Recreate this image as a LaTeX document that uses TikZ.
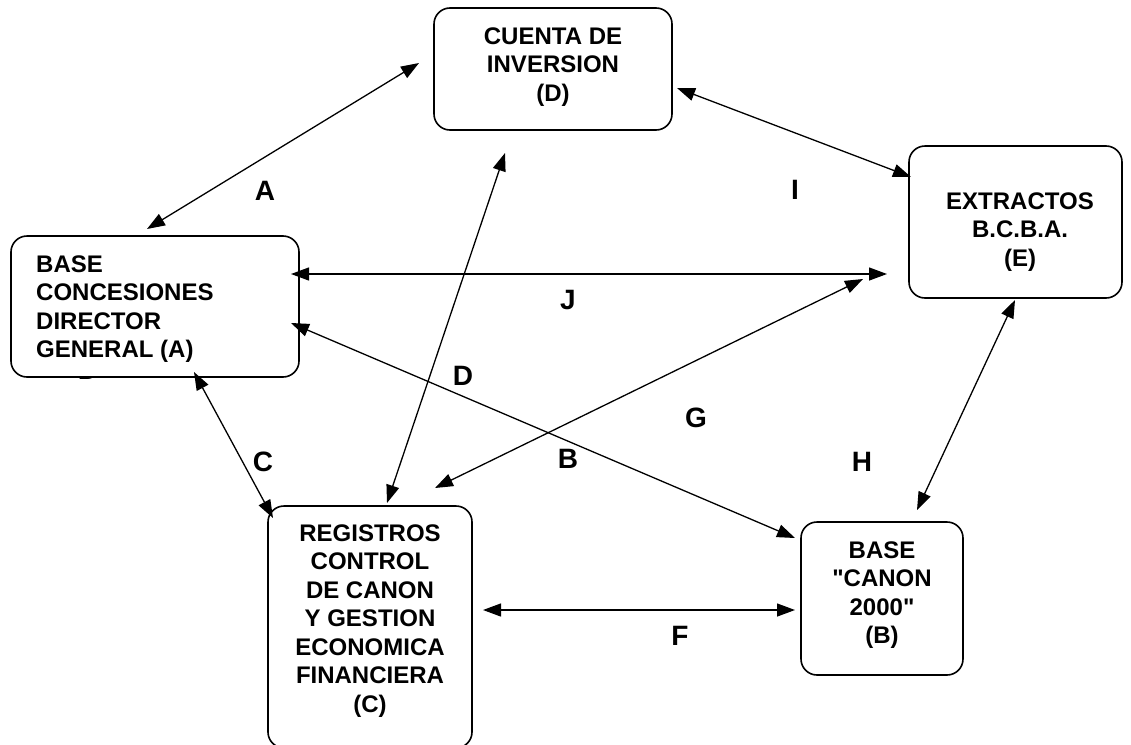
\documentclass[tikz,border=0pt]{standalone}
\usepackage{fontspec}
\setmainfont{Liberation Sans}[Ligatures=TeXOff]
\usetikzlibrary{arrows.meta}
\begin{document}
\begin{tikzpicture}[x=1pt,y=-1pt,
        caja/.style={draw, line width=1.6pt, rounded corners=16pt, fill=white},
        texto/.style={font=\fontsize{24}{28.5}\selectfont\bfseries, align=center, inner sep=0pt},
        letra/.style={font=\fontsize{28}{30}\selectfont\bfseries, inner sep=0pt},
        flecha/.style={line width=1.3pt, {Triangle[length=18pt,width=13pt]}-{Triangle[length=18pt,width=13pt]}}]
        \useasboundingbox (0,0) rectangle (1131,744);

        % Letra tapada por la caja A
        \node[letra] (lOculta) at (88,370) {D};

        % Cajas
        \draw[caja] (11,236) rectangle (299,377);
        \draw[caja] (434,8) rectangle (672,130);
        \draw[caja] (909,146) rectangle (1122,298);
        \draw[caja] (268,506) rectangle (472,748);
        \draw[caja] (801,522) rectangle (963,675);

        % Textos de las cajas
        \node[texto, align=left, anchor=west] (A) at (36,309) {BASE\\CONCESIONES\\DIRECTOR\\GENERAL (A)};
        \node[texto] (D) at (553,67) {CUENTA DE\\INVERSION\\(D)};
        \node[texto] (E) at (1020,232) {EXTRACTOS\\B.C.B.A.\\(E)};
        \node[texto] (C) at (370,621) {REGISTROS\\CONTROL\\DE CANON\\Y GESTION\\ECONOMICA\\FINANCIERA\\(C)};
        \node[texto] (B) at (882,595) {BASE\\"CANON\\2000"\\(B)};

        % Extremos de las flechas
        \coordinate (pA1) at (147,229);  \coordinate (pA2) at (419,63);
        \coordinate (pI1) at (677,88);   \coordinate (pI2) at (911,177);
        \coordinate (pJ1) at (291,274);  \coordinate (pJ2) at (887,274);
        \coordinate (pG1) at (435,488);  \coordinate (pG2) at (863,279);
        \coordinate (pD1) at (387,503);  \coordinate (pD2) at (505,153);
        \coordinate (pB1) at (291,323);  \coordinate (pB2) at (795,538);
        \coordinate (pC1) at (194,372);  \coordinate (pC2) at (273,518);
        \coordinate (pH1) at (917,510);  \coordinate (pH2) at (1015,300);
        \coordinate (pF1) at (483,610);  \coordinate (pF2) at (795,610);

        % Flechas
        \draw[flecha] (pA1) -- (pA2);
        \draw[flecha] (pI1) -- (pI2);
        \draw[flecha] (pJ1) -- (pJ2);
        \draw[flecha] (pG1) -- (pG2);
        \draw[flecha] (pD1) -- (pD2);
        \draw[flecha] (pB1) -- (pB2);
        \draw[flecha] (pC1) -- (pC2);
        \draw[flecha] (pH1) -- (pH2);
        \draw[flecha] (pF1) -- (pF2);

        % Letras de las flechas
        \node[letra] (lA) at (265,191) {A};
        \node[letra] (lI) at (795,190) {I};
        \node[letra] (lJ) at (568,300) {J};
        \node[letra] (lD) at (463,376) {D};
        \node[letra] (lG) at (696,418) {G};
        \node[letra] (lB) at (568,459) {B};
        \node[letra] (lC) at (263,462) {C};
        \node[letra] (lH) at (862,462) {H};
        \node[letra] (lF) at (680,636) {F};
    \end{tikzpicture}
\end{document}
